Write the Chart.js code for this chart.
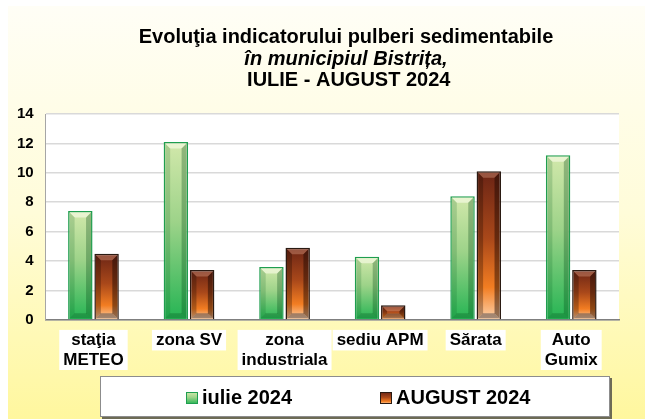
<!DOCTYPE html>
<html>
<head>
<meta charset="utf-8">
<title>Evoluţia indicatorului pulberi sedimentabile</title>
<script src="https://cdn.jsdelivr.net/npm/chart.js@4.4.1/dist/chart.umd.min.js"></script>
<style>
  body { margin: 0; background: #ffffff; }
  #wrap { width: 645px; height: 419px; }
</style>
</head>
<body>
<div id="wrap"><canvas id="canvas" width="645" height="419"></canvas></div>
<script>
// measuring points on the x axis (arrays give two-line labels):
const stations = [['staţia', 'METEO'], 'zona SV', ['zona', 'industriala'], 'sediu APM', 'Sărata', ['Auto', 'Gumix']];
// values:
const iulie = [7.4, 12.1, 3.6, 4.3, 8.4, 11.2];
const august = [4.5, 3.4, 4.9, 1.0, 10.1, 3.4];
const seriesNames = ['iulie 2024', 'AUGUST 2024'];
// y axis tick values:
const yTicks = [0, 2, 4, 6, 8, 10, 12, 14];
const titleLines = ['Evoluţia indicatorului pulberi sedimentabile', 'în municipiul Bistrița,', ' IULIE - AUGUST 2024'];

const fontFamily = "'Liberation Sans', Arial, sans-serif";
const xFont = { family: fontFamily, size: 17, weight: 'bold', lineHeight: 1.15 };

// gradient stops for the two series, top of bar to bottom:
const greenStops = [[0, '#d2e8ab'], [0.45, '#9dd389'], [1, '#24b453']];
const orangeStops = [[0, '#6a2415'], [0.45, '#a9481a'], [0.78, '#f27d22'], [1, '#fdd3ac']];

// makes a vertical gradient for each bar, from its top down to zero:
function barFill(stops) {
  return function (c) {
    const chart = c.chart;
    if (!chart.chartArea || c.type !== 'data') return stops[stops.length - 1][1];
    const y = chart.scales.y;
    const top = y.getPixelForValue(c.raw);
    const base = y.getPixelForValue(0);
    const g = chart.ctx.createLinearGradient(0, top, 0, base);
    stops.forEach(s => g.addColorStop(s[0], s[1]));
    return g;
  };
}

// page background, white plot area, white boxes behind the x labels:
const backgroundPlugin = {
  id: 'background',
  beforeDraw(chart) {
    const ctx = chart.ctx;
    const a = chart.chartArea;
    ctx.save();
    ctx.fillStyle = '#ffffff';
    ctx.fillRect(0, 0, chart.width, chart.height);
    const g = ctx.createLinearGradient(0, 6, 0, chart.height);
    g.addColorStop(0, '#fffef6');
    g.addColorStop(0.5, '#fffcd9');
    g.addColorStop(1, '#fff79e');
    ctx.fillStyle = g;
    ctx.fillRect(8, 6, chart.width - 8, chart.height - 6);
    ctx.fillStyle = '#ffffff';
    ctx.fillRect(a.left, a.top, a.right - a.left, a.bottom - a.top);

    // label backdrops (one box per label, covering all its lines):
    const xs = chart.scales.x;
    const lh = xFont.size * xFont.lineHeight;
    ctx.font = 'bold ' + xFont.size + 'px ' + fontFamily;
    xs.ticks.forEach((t, i) => {
      const lbl = chart.data.labels[i];
      const lines = Array.isArray(lbl) ? lbl : [lbl];
      const w = Math.max(...lines.map(s => ctx.measureText(s).width));
      const cx = xs.getPixelForTick(i);
      const top = xs.top + xs.options.ticks.padding - 1;
      ctx.fillRect(cx - w / 2 - 4, top, w + 8, lines.length * lh + 1);
    });
    ctx.restore();
  }
};

// bevelled edges on the bars:
const bevelShades = [
  { top: 'rgba(255,255,240,0.55)', left: 'rgba(0,90,30,0.18)', right: 'rgba(0,70,20,0.30)', bottom: 'rgba(0,60,20,0.25)' },
  { top: 'rgba(255,200,170,0.30)', left: 'rgba(30,10,0,0.30)', right: 'rgba(20,5,0,0.45)', bottom: 'rgba(90,80,80,0.55)' }
];
const bevelPlugin = {
  id: 'bevel',
  afterDatasetsDraw(chart) {
    const ctx = chart.ctx;
    chart.data.datasets.forEach((ds, i) => {
      const shade = bevelShades[i];
      chart.getDatasetMeta(i).data.forEach(bar => {
        const p = bar.getProps(['x', 'y', 'base', 'width'], true);
        const l = p.x - p.width / 2 + 1.5, r = p.x + p.width / 2 - 1.5;
        const t = p.y + 1.5, b = p.base - 1;
        const d = Math.min(5, (b - t) / 2.5);
        const poly = (pts, color) => {
          ctx.beginPath();
          ctx.moveTo(pts[0][0], pts[0][1]);
          for (let k = 1; k < pts.length; k++) ctx.lineTo(pts[k][0], pts[k][1]);
          ctx.closePath();
          ctx.fillStyle = color;
          ctx.fill();
        };
        ctx.save();
        poly([[l, t], [r, t], [r - d, t + d], [l + d, t + d]], shade.top);
        poly([[l, t], [l + d, t + d], [l + d, b - d], [l, b]], shade.left);
        poly([[r, t], [r, b], [r - d, b - d], [r - d, t + d]], shade.right);
        poly([[l, b], [l + d, b - d], [r - d, b - d], [r, b]], shade.bottom);
        ctx.restore();
      });
    });
  }
};

// three-line title, middle line italic:
const titlePlugin = {
  id: 'titleLines',
  afterDraw(chart) {
    const ctx = chart.ctx;
    const fonts = ['bold 20px ' + fontFamily, 'italic bold 20px ' + fontFamily, 'bold 20px ' + fontFamily];
    const baselines = [43, 64.5, 86];
    ctx.save();
    ctx.fillStyle = '#000000';
    ctx.textAlign = 'center';
    ctx.textBaseline = 'alphabetic';
    titleLines.forEach((line, i) => {
      ctx.font = fonts[i];
      ctx.fillText(line, 346, baselines[i]);
    });
    ctx.restore();
  }
};

// legend in a white framed box under the chart:
const legendBox = { x: 100, y: 376, w: 510, h: 41 };
const legendItemX = [186, 380];
const legendPlugin = {
  id: 'boxLegend',
  afterDraw(chart) {
    const ctx = chart.ctx;
    const bx = legendBox;
    ctx.save();
    ctx.fillStyle = 'rgba(60,60,60,0.75)';
    ctx.fillRect(bx.x + 2, bx.y + 2, bx.w, bx.h);
    ctx.fillStyle = '#ffffff';
    ctx.fillRect(bx.x, bx.y, bx.w, bx.h);
    ctx.strokeStyle = '#8c8c8c';
    ctx.lineWidth = 1;
    ctx.strokeRect(bx.x + 0.5, bx.y + 0.5, bx.w - 1, bx.h - 1);
    ctx.font = 'bold 20px ' + fontFamily;
    ctx.textBaseline = 'alphabetic';
    ctx.textAlign = 'left';
    chart.data.datasets.forEach((ds, i) => {
      const mx = legendItemX[i], my = 392, ms = 12;
      const stops = i === 0 ? greenStops : orangeStops;
      const g = ctx.createLinearGradient(0, my, 0, my + ms);
      stops.forEach(s => g.addColorStop(s[0], s[1]));
      ctx.fillStyle = g;
      ctx.fillRect(mx, my, ms, ms);
      ctx.strokeStyle = ds.borderColor;
      ctx.strokeRect(mx + 0.5, my + 0.5, ms - 1, ms - 1);
      ctx.fillStyle = '#000000';
      ctx.fillText(ds.label, mx + ms + 4, 404);
    });
    ctx.restore();
  }
};

const data = {
  labels: stations,
  datasets: [{
    label: seriesNames[0],
    data: iulie,
    backgroundColor: barFill(greenStops),
    borderColor: '#1f9e4f',
    borderWidth: 1.5
  }, {
    label: seriesNames[1],
    data: august,
    backgroundColor: barFill(orangeStops),
    borderColor: '#2a1a12',
    borderWidth: 1.5
  }]
};

const config = {
  type: 'bar',
  data: data,
  options: {
    responsive: false,
    animation: false,
    datasets: {
      bar: {
        categoryPercentage: 0.55,
        barPercentage: 0.93
      }
    },
    layout: {
      padding: { left: 5, right: 26, top: 114, bottom: 38 }
    },
    plugins: {
      legend: { display: false },
      title: { display: false },
      tooltip: { enabled: false }
    },
    scales: {
      x: {
        grid: { display: false, drawTicks: false },
        border: { display: true, color: '#7f7f7f', width: 1.5 },
        ticks: {
          color: '#000000',
          font: xFont,
          padding: 11,
          maxRotation: 0,
          autoSkip: false
        }
      },
      y: {
        min: 0,
        max: 14,
        afterBuildTicks: scale => {
          scale.ticks = yTicks.map(v => ({ value: v }));
        },
        grid: { color: '#d9d9d9', lineWidth: 1.5, drawTicks: false },
        border: { display: true, color: '#a6a6a6', width: 1 },
        ticks: {
          color: '#000000',
          font: { family: fontFamily, size: 15, weight: 'bold' },
          padding: 12
        }
      }
    }
  },
  plugins: [backgroundPlugin, bevelPlugin, titlePlugin, legendPlugin]
};

let chart;
function setup() {
  const ctx = document.getElementById('canvas').getContext('2d');
  chart = new Chart(ctx, config);
}

document.addEventListener('DOMContentLoaded', setup);
</script>
</body>
</html>
